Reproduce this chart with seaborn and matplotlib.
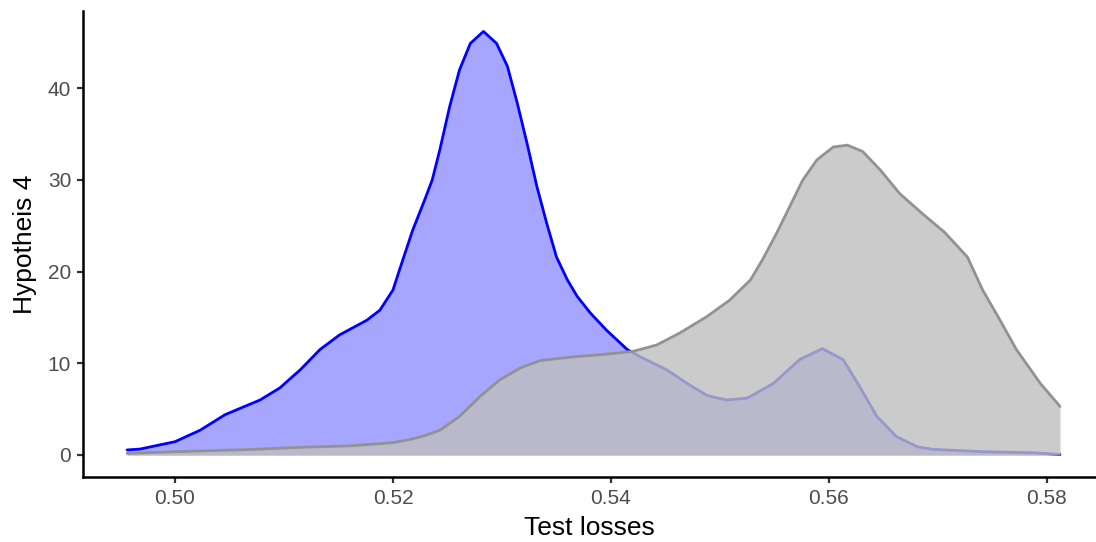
import matplotlib
matplotlib.use("Agg")
import matplotlib.pyplot as plt
import seaborn as sns
import pandas as pd

# Density estimates of test losses for the two model groups
blue_x = [0.4956, 0.4968, 0.5000, 0.5023, 0.5046, 0.5078, 0.5096, 0.5115, 0.5133,
          0.5151, 0.5176, 0.5188, 0.5200, 0.5206, 0.5218, 0.5229, 0.5236, 0.5243,
          0.5252, 0.5261, 0.5271, 0.5283, 0.5295, 0.5305, 0.5314, 0.5323, 0.5332,
          0.5341, 0.5350, 0.5360, 0.5369, 0.5381, 0.5396, 0.5415, 0.5427, 0.5451,
          0.5470, 0.5488, 0.5506, 0.5525, 0.5549, 0.5573, 0.5594, 0.5613, 0.5628,
          0.5644, 0.5662, 0.5681, 0.5695, 0.5741, 0.5787, 0.5812]
blue_y = [0.55, 0.65, 1.45, 2.7, 4.4, 6.0, 7.3, 9.3, 11.5,
          13.1, 14.7, 15.8, 18.0, 20.2, 24.5, 27.8, 30.0, 33.3,
          38.0, 42.0, 44.9, 46.2, 44.9, 42.4, 38.4, 34.0, 29.3,
          25.3, 21.6, 19.1, 17.3, 15.5, 13.6, 11.5, 10.7, 9.3,
          7.8, 6.5, 6.0, 6.2, 7.8, 10.4, 11.6, 10.4, 7.5,
          4.2, 2.0, 0.9, 0.62, 0.36, 0.25, 0.05]

grey_x = [0.4956, 0.5000, 0.5069, 0.5115, 0.5161, 0.5200, 0.5216, 0.5229, 0.5243,
          0.5261, 0.5280, 0.5298, 0.5317, 0.5335, 0.5365, 0.5396, 0.5420, 0.5442,
          0.5463, 0.5488, 0.5509, 0.5528, 0.5539, 0.5552, 0.5564, 0.5576, 0.5589,
          0.5604, 0.5617, 0.5631, 0.5647, 0.5665, 0.5686, 0.5706, 0.5727, 0.5741,
          0.5757, 0.5772, 0.5794, 0.5812]
grey_y = [0.18, 0.36, 0.6, 0.84, 1.0, 1.35, 1.7, 2.1, 2.7,
          4.2, 6.4, 8.2, 9.5, 10.3, 10.7, 11.0, 11.3, 12.0,
          13.3, 15.1, 16.9, 19.1, 21.3, 24.2, 27.1, 30.0, 32.2,
          33.6, 33.8, 33.1, 31.1, 28.5, 26.3, 24.3, 21.6, 18.0,
          14.7, 11.5, 7.8, 5.3]

x_ticks = [0.50, 0.52, 0.54, 0.56, 0.58]
y_ticks = [0, 10, 20, 30, 40]

blue_df = pd.DataFrame({"loss": blue_x, "density": blue_y})
grey_df = pd.DataFrame({"loss": grey_x, "density": grey_y})

sns.set_theme(style="ticks")
plt.rcParams["font.family"] = ["Liberation Sans", "DejaVu Sans"]

fig = plt.figure(figsize=(10.96, 5.42), dpi=100)
ax = fig.add_axes([83 / 1096, 65 / 542, 1 - 83 / 1096, 466 / 542])

# first group: translucent blue area with a solid blue outline
ax.fill_between(blue_df["loss"], 0, blue_df["density"], color="blue", alpha=0.35,
                linewidth=0, zorder=1)
sns.lineplot(data=blue_df, x="loss", y="density", color="blue", linewidth=2.0,
             estimator=None, ax=ax, zorder=2, solid_joinstyle="round")

# second group: grey area drawn over the first
ax.fill_between(grey_df["loss"], 0, grey_df["density"], color="#bebebe", alpha=0.8,
                linewidth=0, zorder=3)
sns.lineplot(data=grey_df, x="loss", y="density", color="#929292", linewidth=2.0,
             estimator=None, ax=ax, zorder=4, solid_joinstyle="round")

ax.set_xlim(0.49156, 0.58450)
ax.set_ylim(-2.4, 48.43)
ax.set_xticks(x_ticks)
ax.set_xticklabels([f"{v:.2f}" for v in x_ticks])
ax.set_yticks(y_ticks)
ax.set_yticklabels([str(v) for v in y_ticks])

for side in ("top", "right"):
    ax.spines[side].set_visible(False)
for side in ("left", "bottom"):
    ax.spines[side].set_linewidth(1.8)
    ax.spines[side].set_color("black")

ax.tick_params(axis="both", length=4.5, width=1.6, color="#333333",
               labelsize=15, labelcolor="#4d4d4d", pad=4)

ax.set_xlabel("Test losses", fontsize=19, color="black", labelpad=6)
ax.set_ylabel("Hypotheis 4", fontsize=19, color="black", labelpad=8)

fig.savefig("out.png", dpi=100)
